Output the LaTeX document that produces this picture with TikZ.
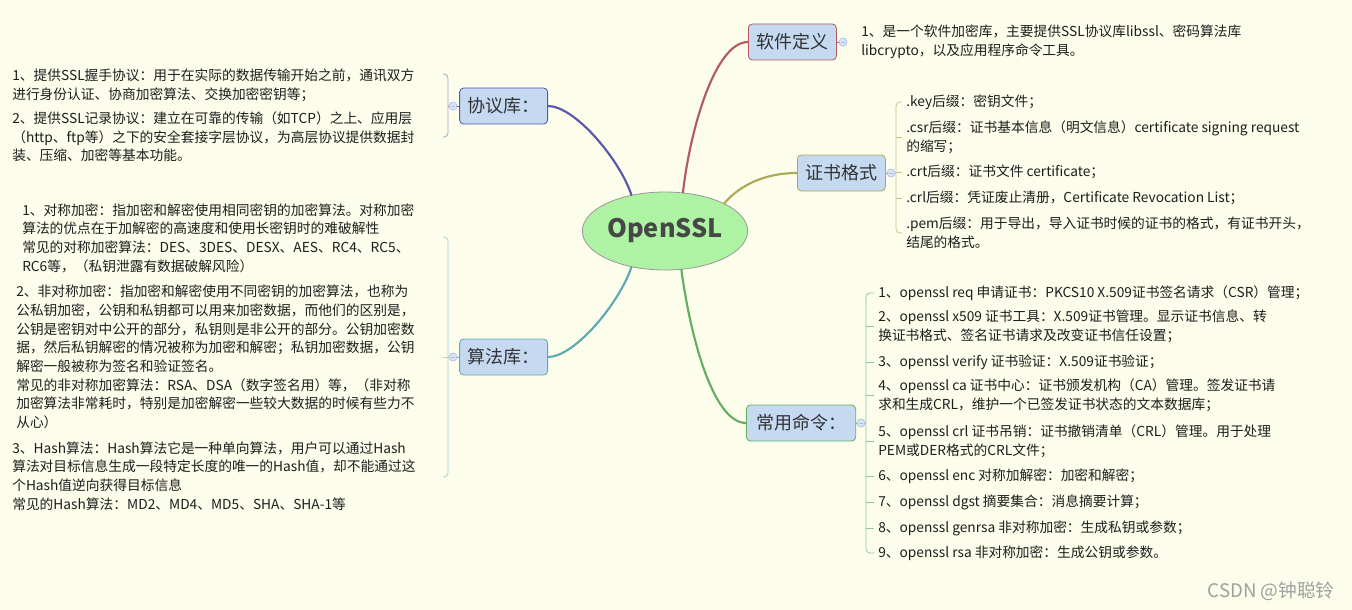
\documentclass[tikz,border=0pt]{standalone}
\usepackage{fontspec}
\setmainfont{Noto Sans CJK SC}
\usetikzlibrary{shapes.geometric,positioning}

\definecolor{bgcol}{HTML}{FDFDEB}
\definecolor{boxfill}{HTML}{C5D9F1}
\definecolor{sslfill}{HTML}{AEF3A4}
\definecolor{txt}{HTML}{1E1E1E}
\definecolor{defcol}{HTML}{B35A60}
\definecolor{certcol}{HTML}{ABAB57}
\definecolor{cmdcol}{HTML}{62AE62}
\definecolor{protocol}{HTML}{5757AC}
\definecolor{algocol}{HTML}{5CABB2}
\definecolor{foldfill}{HTML}{D9E5F7}
\definecolor{folddraw}{HTML}{A6BEE6}

\tikzset{
  topic/.style={rectangle, rounded corners=3pt, fill=boxfill, line width=0.6pt,
    minimum width=66pt, minimum height=27pt, inner sep=0pt,
    font=\fontsize{13.5}{16}\selectfont, text=black!80},
  item/.style={anchor=west, inner sep=0pt, align=left,
    font=\fontsize{10.3}{14}\selectfont, text=txt},
  fold/.style={circle, draw=folddraw, fill=foldfill, minimum size=6pt, inner sep=0pt,
    line width=0.5pt, path picture={\draw[folddraw, line width=0.5pt]
      ([xshift=-1.6pt]path picture bounding box.center) --
      ([xshift=1.6pt]path picture bounding box.center);}},
  branch/.style={line width=1.6pt, line cap=round},
  bracket/.style={line width=0.6pt, rounded corners=3pt},
}

\begin{document}
\begin{tikzpicture}[x=0.75pt, y=-0.75pt]
  \fill[bgcol] (0,0) rectangle (1352,610);
  \useasboundingbox (0,0) rectangle (1352,610);

  % centre
  \node[ellipse, draw=gray!80, fill=sslfill, line width=0.6pt, inner sep=0pt,
    minimum width=124pt, minimum height=58.5pt,
    font=\fontsize{19}{22}\selectfont\bfseries, text=black!72] (ssl) at (665,231) {OpenSSL};

  % topics
  \node[topic, draw=defcol, anchor=west] (def) at (748,42) {软件定义};
  \node[topic, draw=certcol, anchor=west] (cert) at (797,173) {证书格式};
  \node[topic, draw=cmdcol, anchor=west, minimum width=82pt] (cmd) at (746,423) {常用命令：};
  \node[topic, draw=protocol, anchor=east] (proto) at (548,106) {协议库：};
  \node[topic, draw=algocol, anchor=east] (algo) at (548,357) {算法库：};

  \node[fold] (deffold) at (843,42) {};
  \node[fold] (certfold) at (891,173) {};
  \node[fold] (cmdfold) at (861,423) {};
  \node[fold] (protofold) at (453,106) {};
  \node[fold] (algofold) at (453,357) {};

  \draw[branch, defcol] (ssl.65) .. controls (690,130) and (715,42) .. (def.west);
  \draw[branch, certcol] (ssl.25) .. controls (740,185) and (765,173) .. (cert.west);
  \draw[branch, cmdcol] (ssl.-67) .. controls (690,335) and (713,423) .. (cmd.west);
  \draw[branch, protocol] (ssl.133) .. controls (620,160) and (575,106) .. (proto.east);
  \draw[branch, algocol] (ssl.-133) .. controls (620,302) and (575,357) .. (algo.east);

  \draw[defcol, line width=0.6pt] (def) -- (deffold);
  \draw[certcol, line width=0.6pt] (cert) -- (certfold);
  \draw[cmdcol, line width=0.6pt] (cmd) -- (cmdfold);
  \draw[protocol, line width=0.6pt] (proto) -- (protofold);
  \draw[algocol, line width=0.6pt] (algo) -- (algofold);

  % 软件定义
  \node[item] (d1) at (861,41.5) {1、是一个软件加密库，主要提供SSL协议库libssl、密码算法库\\libcrypto，以及应用程序命令工具。};

  % 证书格式
  \node[item] (k1) at (906,102) {.key后缀：密钥文件；};
  \node[item] (k2) at (906,137.5) {.csr后缀：证书基本信息（明文信息）certificate signing request\\的缩写；};
  \node[item] (k3) at (906,172) {.crt后缀：证书文件 certificate；};
  \node[item] (k4) at (906,198) {.crl后缀：凭证废止清册，Certificate Revocation List；};
  \node[item] (k5) at (906,233) {.pem后缀：用于导出，导入证书时候的证书的格式，有证书开头，\\结尾的格式。};
  \coordinate (certbar) at (896,173);
  \draw[bracket, certcol!70] (certfold) -- (certbar);
  \draw[bracket, certcol!70] ([xshift=-3pt]k1.west) -| (certbar) |- ([xshift=-3pt]k5.west);
  \foreach \k in {k2,k3,k4}
    \draw[bracket, certcol!70] (certbar |- \k.west) -- ([xshift=-3pt]\k.west);

  % 常用命令
  \node[item] (c1) at (878,293) {1、openssl req 申请证书：PKCS10 X.509证书签名请求（CSR）管理；};
  \node[item] (c2) at (878,326.5) {2、openssl x509 证书工具：X.509证书管理。显示证书信息、转\\换证书格式、签名证书请求及改变证书信任设置；};
  \node[item] (c3) at (878,362) {3、openssl verify 证书验证：X.509证书验证；};
  \node[item] (c4) at (878,395.5) {4、openssl ca 证书中心：证书颁发机构（CA）管理。签发证书请\\求和生成CRL，维护一个已签发证书状态的文本数据库；};
  \node[item] (c5) at (878,441.5) {5、openssl crl 证书吊销：证书撤销清单（CRL）管理。用于处理\\PEM或DER格式的CRL文件；};
  \node[item] (c6) at (878,476) {6、openssl enc 对称加解密：加密和解密；};
  \node[item] (c7) at (878,502) {7、openssl dgst 摘要集合：消息摘要计算；};
  \node[item] (c8) at (878,528) {8、openssl genrsa 非对称加密：生成私钥或参数；};
  \node[item] (c9) at (878,553) {9、openssl rsa 非对称加密：生成公钥或参数。};
  \coordinate (cmdbar) at (866,423);
  \draw[bracket, cmdcol!70] (cmdfold) -- (cmdbar);
  \draw[bracket, cmdcol!70] ([xshift=-3pt]c1.west) -| (cmdbar) |- ([xshift=-3pt]c9.west);
  \foreach \k in {c2,c3,c4,c5,c6,c7,c8}
    \draw[bracket, cmdcol!70] (cmdbar |- \k.west) -- ([xshift=-3pt]\k.west);

  % 协议库
  \node[item] (p1) at (12,85) {1、提供SSL握手协议：用于在实际的数据传输开始之前，通讯双方\\进行身份认证、协商加密算法、交换加密密钥等；};
  \node[item] (p2) at (12,137) {2、提供SSL记录协议：建立在可靠的传输（如TCP）之上、应用层\\（http、ftp等）之下的安全套接字层协议，为高层协议提供数据封\\装、压缩、加密等基本功能。};
  \coordinate (pbar) at (448,106);
  \coordinate (ptop) at (443,74);
  \coordinate (pbot) at (443,137);
  \draw[bracket, protocol!55] (protofold) -- (pbar);
  \draw[bracket, protocol!55] (ptop) -| (pbar) |- (pbot);

  % 算法库
  \node[item] (a1) at (22,238) {1、对称加密：指加密和解密使用相同密钥的加密算法。对称加密\\算法的优点在于加解密的高速度和使用长密钥时的难破解性\\常见的对称加密算法：DES、3DES、DESX、AES、RC4、RC5、\\RC6等，（私钥泄露有数据破解风险）};
  \node[item] (a2) at (16,357) {2、非对称加密：指加密和解密使用不同密钥的加密算法，也称为\\公私钥加密，公钥和私钥都可以用来加密数据，而他们的区别是，\\公钥是密钥对中公开的部分，私钥则是非公开的部分。公钥加密数\\据，然后私钥解密的情况被称为加密和解密；私钥加密数据，公钥\\解密一般被称为签名和验证签名。\\常见的非对称加密算法：RSA、DSA（数字签名用）等，（非对称\\加密算法非常耗时，特别是加密解密一些较大数据的时候有些力不\\从心）};
  \node[item] (a3) at (12,476) {3、Hash算法：Hash算法它是一种单向算法，用户可以通过Hash\\算法对目标信息生成一段特定长度的唯一的Hash值，却不能通过这\\个Hash值逆向获得目标信息\\常见的Hash算法：MD2、MD4、MD5、SHA、SHA-1等};
  \coordinate (abar) at (448,357);
  \coordinate (atop) at (443,237);
  \coordinate (abot) at (443,477);
  \draw[bracket, algocol!55] (algofold) -- (abar);
  \draw[bracket, algocol!55] (atop) -| (abar) |- (abot);
  \draw[bracket, algocol!55] (abar) -- ++(-5,0);

  \node[font=\fontsize{14}{16}\selectfont, text=gray!75, inner sep=0pt] (csdn) at (1271,591) {CSDN @钟聪铃};
\end{tikzpicture}
\end{document}
